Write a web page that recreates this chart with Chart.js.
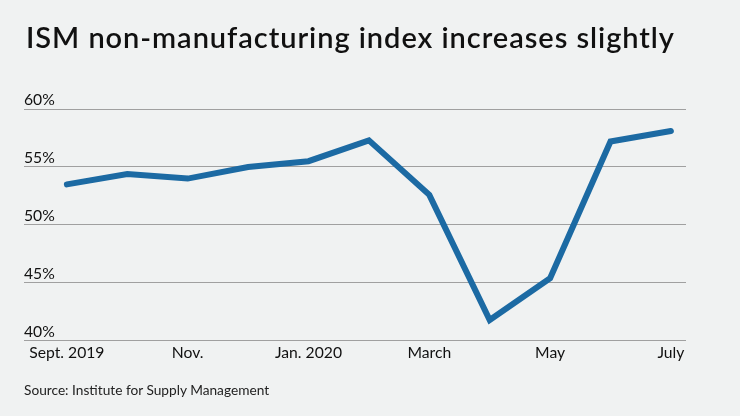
<!DOCTYPE html>
<html>
<head>
<meta charset="utf-8">
<script src="https://cdn.jsdelivr.net/npm/chart.js@4/dist/chart.umd.min.js"></script>
<style>
    html, body { margin: 0; padding: 0; background: #f0f2f2; }
    #wrap { position: relative; width: 740px; height: 416px; background: #f0f2f2; overflow: hidden; }
    #title { position: absolute; left: 26px; top: 19px; font-family: "Lato", sans-serif; font-weight: 600; font-size: 29px; color: #111; white-space: nowrap; letter-spacing: 0.95px; }
    #source { position: absolute; left: 24px; top: 381px; font-family: "Lato", sans-serif; font-size: 13.7px; color: #222; white-space: nowrap; }
    #chart { position: absolute; left: 0; top: 0; }
</style>
</head>
<body>
<div id="wrap">
    <canvas id="chart" width="740" height="416"></canvas>
    <div id="title">ISM non-manufacturing index increases slightly</div>
    <div id="source">Source: Institute for Supply Management</div>
</div>
<script>
    const months = ["Sept. 2019", "Oct.", "Nov.", "Dec.", "Jan. 2020", "Feb.", "March", "April", "May", "June", "July"];
    const indexValues = [53.5, 54.4, 54.0, 55.0, 55.5, 57.3, 52.6, 41.8, 45.4, 57.2, 58.1];
    const xTickIndexes = [0, 2, 4, 6, 8, 10];
    const yTicks = [40, 45, 50, 55, 60];

    const ctx = document.getElementById("chart").getContext("2d");

    new Chart(ctx, {
        type: "line",
        data: {
            datasets: [{
                label: "ISM non-manufacturing index",
                data: indexValues.map(function (v, i) { return { x: i, y: v }; }),
                borderColor: "#1c6aa3",
                borderWidth: 6,
                borderCapStyle: "round",
                borderJoinStyle: "miter",
                pointRadius: 0,
                tension: 0,
                fill: false,
                clip: false
            }]
        },
        options: {
            responsive: false,
            animation: false,
            layout: {
                padding: { left: 24, right: 54, top: 109, bottom: 51 }
            },
            plugins: {
                legend: { display: false },
                tooltip: { enabled: false }
            },
            scales: {
                x: {
                    type: "linear",
                    min: -0.71,
                    max: 10.25,
                    afterBuildTicks: function (scale) {
                        scale.ticks = xTickIndexes.map(function (v) { return { value: v }; });
                    },
                    ticks: {
                        autoSkip: false,
                        maxRotation: 0,
                        padding: 2.6,
                        color: "#111",
                        font: { family: "Lato", size: 15.7 },
                        callback: function (value) { return months[value] || ""; }
                    },
                    grid: { display: false, drawTicks: false },
                    border: { display: false }
                },
                y: {
                    min: 40,
                    max: 60,
                    afterBuildTicks: function (scale) {
                        scale.ticks = yTicks.map(function (v) { return { value: v }; });
                    },
                    ticks: {
                        mirror: true,
                        padding: 0,
                        labelOffset: -9,
                        color: "#111",
                        font: { family: "Lato", size: 15.7 },
                        callback: function (value) { return value + "%"; }
                    },
                    grid: {
                        color: "#a0a0a0",
                        lineWidth: 1,
                        drawTicks: false
                    },
                    border: { display: false }
                }
            }
        }
    });
</script>
</body>
</html>
